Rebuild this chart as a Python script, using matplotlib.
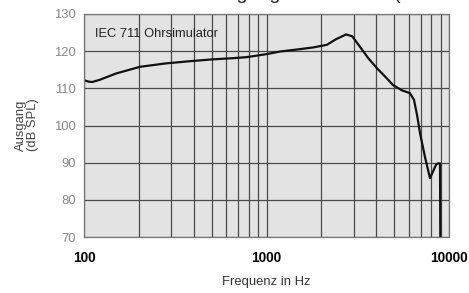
import matplotlib
matplotlib.use("Agg")
import matplotlib.pyplot as plt
from matplotlib.ticker import FixedLocator, NullFormatter

plt.rcParams['font.family'] = ['Liberation Sans', 'DejaVu Sans']

freq = [100, 106, 111, 122, 150, 203, 280, 380, 509, 650, 782, 1000, 1186, 1500,
        1800, 2140, 2400, 2730, 2950, 3250, 3600, 4030, 4500, 4930, 5500, 6110,
        6430, 6700, 6940, 7380, 7870, 8170, 8500, 8700, 8930, 8960]
spl = [112.2, 111.8, 111.7, 112.3, 114.0, 115.8, 116.7, 117.3, 117.8, 118.1, 118.4,
       119.2, 119.9, 120.5, 121.0, 121.7, 123.2, 124.5, 124.0, 121.2, 118.2, 115.4,
       113.0, 110.9, 109.5, 108.7, 106.9, 102.5, 97.9, 91.6, 85.8, 87.6, 89.5, 89.8,
       89.8, 70.3]

xticks = [100, 1000, 10000]
xticklabels = ["100", "1000", "10000"]
yticks = [70, 80, 90, 100, 110, 120, 130]

fig = plt.figure(figsize=(4.69, 2.93), dpi=100)
ax = fig.add_axes([84/469, 1-237/293, 365/469, 223/293])
ax.set_facecolor('#e3e3e3')
ax.set_xscale('log')
ax.set_xlim(100, 10000)
ax.set_ylim(70, 130)

minor = [m * d for d in (100, 1000) for m in range(2, 10)]
ax.xaxis.set_major_locator(FixedLocator(xticks))
ax.xaxis.set_minor_locator(FixedLocator(minor))
ax.xaxis.set_minor_formatter(NullFormatter())
ax.set_xticklabels(xticklabels)
ax.set_yticks(yticks)

gc = '#4a4a4a'
ax.grid(True, which='both', axis='x', color=gc, linewidth=0.9)
ax.grid(True, which='major', axis='y', color=gc, linewidth=0.9)
ax.set_axisbelow(True)
for s in ax.spines.values():
    s.set_color('#777777')
    s.set_linewidth(0.9)

ax.tick_params(axis='both', which='both', length=0)
ax.tick_params(axis='x', pad=10, labelsize=9.8, labelcolor='black')
ax.tick_params(axis='y', pad=6, labelsize=9.4, labelcolor='#888888')
for lbl in ax.get_xticklabels():
    lbl.set_fontweight('bold')

ax.plot(freq, spl, color='#111111', linewidth=1.6, solid_joinstyle='round')

ax.text(0.03, 0.935, "IEC 711 Ohrsimulator", transform=ax.transAxes,
        fontsize=9.3, color='#222222', va='top', ha='left')

fig.text(27/469, 1-125/293, "Ausgang\n(dB SPL)", rotation=90, ha='center',
         va='center', fontsize=9.4, color='#444444', linespacing=1.05)
fig.text(266/469, 1-282/293, "Frequenz in Hz", ha='center', va='center',
         fontsize=9.4, color='#333333')
fig.text(108/469, 1+1.0/293, "Maximaler Ausgangsschalldruck (SSPL90)",
         ha='left', va='baseline', fontsize=14, color='#222222')

fig.savefig("out.png", dpi=100)
